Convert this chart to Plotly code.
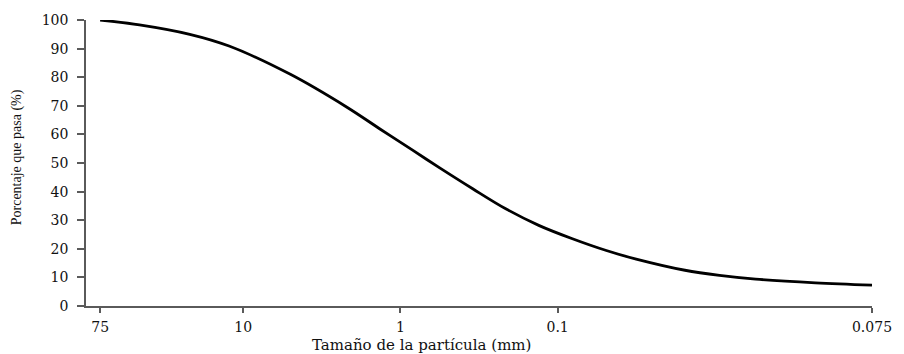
import plotly.graph_objects as go

# Particle-size scale positions (one unit per decade, 0.075 placed at the far end)
tick_pos = [0.09, 1, 2, 3, 5]
tick_text = ["75", "10", "1", "0.1", "0.075"]

# Gradation curve: position along the size scale and percent passing
curve_pos = [0.09, 0.34, 0.66, 0.91, 1.30, 1.66, 1.87, 2.08, 2.25, 2.46,
             2.67, 2.88, 3.09, 3.31, 3.50, 3.81, 4.03, 4.26, 4.64, 5.0]
pct_pass = [100, 98.3, 95.0, 90.9, 81.0, 69.5, 61.9, 54.4, 48.3, 41.0,
            34.0, 28.2, 23.6, 19.4, 16.4, 12.5, 10.7, 9.4, 8.1, 7.3]

y_ticks = list(range(0, 101, 10))

axis_col = "#5a5a5a"
tick_font = dict(family="DejaVu Serif", size=14, color="#111111")

fig = go.Figure()
fig.add_trace(go.Scatter(
    x=curve_pos, y=pct_pass, mode="lines",
    line=dict(color="#000000", width=2.8, shape="spline", smoothing=1.0),
    cliponaxis=False, showlegend=False, hoverinfo="skip",
))

fig.update_layout(
    width=904, height=354,
    margin=dict(l=86, r=29, t=19, b=48),
    paper_bgcolor="white", plot_bgcolor="white",
    xaxis=dict(
        range=[0, 5], tickvals=tick_pos, ticktext=tick_text,
        showgrid=False, zeroline=False, showline=True,
        linecolor=axis_col, linewidth=1.5,
        ticks="outside", ticklen=5, tickwidth=1.5, tickcolor=axis_col,
        tickfont=tick_font, ticklabelstandoff=2,
    ),
    yaxis=dict(
        range=[0, 100], tickvals=y_ticks,
        showgrid=False, zeroline=False, showline=True,
        linecolor=axis_col, linewidth=1.5,
        ticks="outside", ticklen=7, tickwidth=1.5, tickcolor=axis_col,
        tickfont=tick_font, ticklabelstandoff=6,
    ),
    annotations=[
        dict(text="Tamaño de la partícula (mm)", xref="paper", yref="paper",
             x=0.427, y=0, yshift=-39, xanchor="center", yanchor="middle",
             showarrow=False,
             font=dict(family="DejaVu Serif", size=15, color="#111111")),
        dict(text="Porcentaje que pasa (%)", xref="paper", yref="paper",
             x=0, xshift=-69, y=0.52, xanchor="center", yanchor="middle",
             textangle=-90, showarrow=False,
             font=dict(family="Liberation Serif", size=14, color="#111111")),
    ],
)

fig.write_html("out.html")
